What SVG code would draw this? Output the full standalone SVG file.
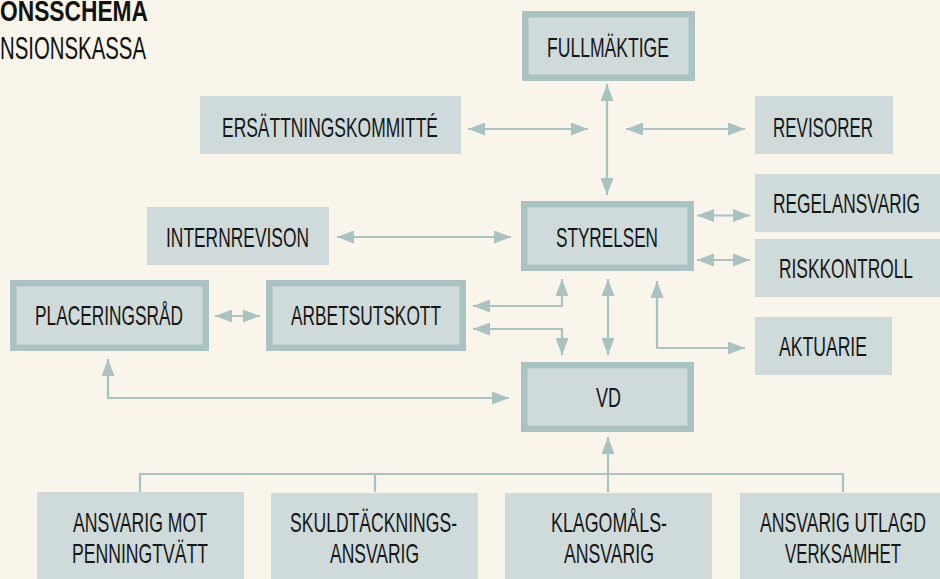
<svg xmlns="http://www.w3.org/2000/svg" width="940" height="579" viewBox="0 0 940 579">
<defs>
<style>
.bg{fill:#f9f5ea}
.box{fill:#cfdbdb}
.bbox{fill:#cfdbdb;stroke:#a9c2c2;stroke-width:6.5}
.lbl{font-family:"Liberation Sans",Arial,sans-serif;font-size:27.5px;fill:#161616}
.ttl{font-family:"Liberation Sans",Arial,sans-serif;fill:#111}
.con{fill:none;stroke:#a9c2c2;stroke-width:2.2}
.arr2{marker-start:url(#ah);marker-end:url(#ah)}
.arr1{marker-end:url(#ah)}
</style>
<marker id="ah" markerUnits="userSpaceOnUse" markerWidth="18" markerHeight="13" refX="17" refY="6.5" orient="auto-start-reverse">
<path d="M0,0 L17,6.5 L0,13 z" fill="#a9c2c2"/>
</marker>
</defs>
<rect class="bg" x="0" y="0" width="940" height="579"/>

<g id="title">
<text class="ttl" x="0" y="21" font-size="29" font-weight="bold" textLength="148" lengthAdjust="spacingAndGlyphs">ONSSCHEMA</text>
<text class="ttl" x="0" y="59" font-size="31" textLength="146" lengthAdjust="spacingAndGlyphs">NSIONSKASSA</text>
</g>

<g id="connectors">
<path class="con arr2" d="M607,84 V195"/>
<path class="con arr2" d="M468,129 H588"/>
<path class="con arr2" d="M626,129 H745"/>
<path class="con arr2" d="M337,237 H511"/>
<path class="con arr2" d="M697,215.5 H750"/>
<path class="con arr2" d="M697,260 H750"/>
<path class="con arr2" d="M657,281 V348 H745"/>
<path class="con arr2" d="M473,306 H562 V279"/>
<path class="con arr2" d="M473,329 H562 V355"/>
<path class="con arr2" d="M608,279 V355"/>
<path class="con arr2" d="M215,316 H260"/>
<path class="con arr2" d="M108,359 V398 H509"/>
<path class="con" d="M140,492 V474 H843 V492 M375,474 V492"/>
<path class="con arr1" d="M608,492 V437"/>
</g>

<g id="fullmaktige">
<rect class="bbox" x="525.25" y="14.25" width="166.5" height="63.5"/>
<text class="lbl" x="547" y="57" textLength="122" lengthAdjust="spacingAndGlyphs">FULLMÄKTIGE</text>
</g>
<g id="ersattningskommitte">
<rect class="box" x="200" y="96" width="261" height="58"/>
<text class="lbl" x="222" y="137" textLength="216" lengthAdjust="spacingAndGlyphs">ERSÄTTNINGSKOMMITTÉ</text>
</g>
<g id="revisorer">
<rect class="box" x="755" y="96" width="138" height="58"/>
<text class="lbl" x="773" y="137" textLength="100" lengthAdjust="spacingAndGlyphs">REVISORER</text>
</g>
<g id="internrevison">
<rect class="box" x="147" y="207" width="182" height="58"/>
<text class="lbl" x="166" y="247" textLength="143" lengthAdjust="spacingAndGlyphs">INTERNREVISON</text>
</g>
<g id="styrelsen">
<rect class="bbox" x="524.25" y="204.25" width="166.5" height="63.5"/>
<text class="lbl" x="556" y="247" textLength="102" lengthAdjust="spacingAndGlyphs">STYRELSEN</text>
</g>
<g id="regelansvarig">
<rect class="box" x="755" y="174" width="185" height="58"/>
<text class="lbl" x="773" y="213" textLength="147" lengthAdjust="spacingAndGlyphs">REGELANSVARIG</text>
</g>
<g id="riskkontroll">
<rect class="box" x="755" y="239" width="185" height="58"/>
<text class="lbl" x="779" y="278" textLength="134" lengthAdjust="spacingAndGlyphs">RISKKONTROLL</text>
</g>
<g id="placeringsrad">
<rect class="bbox" x="13.25" y="283.25" width="192.5" height="64.5"/>
<text class="lbl" x="35" y="325" textLength="148" lengthAdjust="spacingAndGlyphs">PLACERINGSRÅD</text>
</g>
<g id="arbetsutskott">
<rect class="bbox" x="269.25" y="283.25" width="193.5" height="64.5"/>
<text class="lbl" x="291" y="325" textLength="150" lengthAdjust="spacingAndGlyphs">ARBETSUTSKOTT</text>
</g>
<g id="aktuarie">
<rect class="box" x="755" y="317" width="137" height="58"/>
<text class="lbl" x="779" y="356" textLength="88" lengthAdjust="spacingAndGlyphs">AKTUARIE</text>
</g>
<g id="vd">
<rect class="bbox" x="524.25" y="365.25" width="166.5" height="63.5"/>
<text class="lbl" x="596" y="407" textLength="25" lengthAdjust="spacingAndGlyphs">VD</text>
</g>
<g id="penningtvatt">
<rect class="box" x="37" y="492" width="207" height="87"/>
<text class="lbl" x="73" y="532" textLength="134" lengthAdjust="spacingAndGlyphs">ANSVARIG MOT</text>
<text class="lbl" x="72" y="563" textLength="136" lengthAdjust="spacingAndGlyphs">PENNINGTVÄTT</text>
</g>
<g id="skuldtackning">
<rect class="box" x="271" y="493" width="207" height="86"/>
<text class="lbl" x="290" y="532" textLength="167" lengthAdjust="spacingAndGlyphs">SKULDTÄCKNINGS-</text>
<text class="lbl" x="330" y="563" textLength="89" lengthAdjust="spacingAndGlyphs">ANSVARIG</text>
</g>
<g id="klagomal">
<rect class="box" x="505" y="493" width="207" height="86"/>
<text class="lbl" x="551" y="532" textLength="116" lengthAdjust="spacingAndGlyphs">KLAGOMÅLS-</text>
<text class="lbl" x="564" y="563" textLength="90" lengthAdjust="spacingAndGlyphs">ANSVARIG</text>
</g>
<g id="utlagd">
<rect class="box" x="740" y="493" width="200" height="86"/>
<text class="lbl" x="760" y="532" textLength="166" lengthAdjust="spacingAndGlyphs">ANSVARIG UTLAGD</text>
<text class="lbl" x="785" y="563" textLength="116" lengthAdjust="spacingAndGlyphs">VERKSAMHET</text>
</g>
</svg>
